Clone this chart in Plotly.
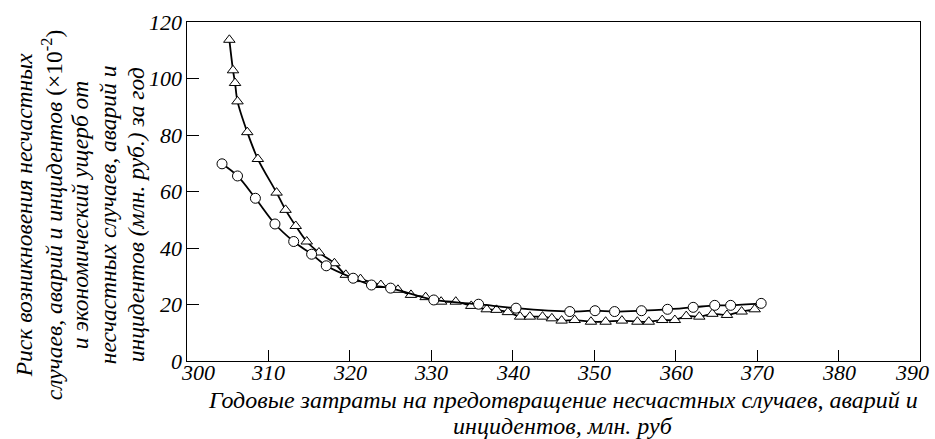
import plotly.graph_objects as go

# Risk curve (triangles): annual prevention cost vs. accident risk (x10^-2)
risk_x = [305.2, 305.65, 305.9, 306.2, 307.4, 308.7, 311.0, 312.1, 313.35, 314.7,
          316.2, 318.1, 319.5, 321.3, 323.8, 325.9, 327.5, 329.3, 331.2, 333.0,
          334.9, 336.8, 338.0, 339.4, 340.9, 342.1, 343.65, 344.8, 346.0, 347.6,
          349.6, 351.4, 353.4, 355.3, 356.7, 358.35, 359.9, 361.3, 362.9, 364.5,
          366.3, 368.1, 369.7]
risk_y = [113.7, 102.9, 98.4, 91.9, 81.0, 71.5, 59.6, 53.5, 47.8, 42.3,
          38.4, 34.6, 30.5, 29.0, 26.9, 25.2, 23.4, 22.6, 21.0, 21.0,
          19.5, 18.3, 18.1, 17.3, 15.7, 15.7, 15.7, 15.1, 14.3, 14.5,
          13.9, 13.9, 14.3, 13.9, 13.9, 14.5, 14.5, 15.9, 15.7, 16.7,
          16.3, 17.5, 18.3]

# Economic damage curve (circles), mln rub per year
loss_x = [304.3, 306.2, 308.4, 310.8, 313.1, 315.3, 317.1, 320.4, 322.65, 325.0,
          330.3, 335.8, 340.4, 347.0, 350.1, 352.5, 355.8, 359.0, 362.15, 364.8,
          366.75, 370.5]
loss_y = [69.8, 65.5, 57.6, 48.5, 42.3, 37.8, 33.7, 29.3, 26.9, 25.8,
          21.6, 20.1, 18.7, 17.5, 17.8, 17.5, 17.8, 18.3, 19.0, 19.7,
          19.7, 20.4]

x_ticks = [300, 310, 320, 330, 340, 350, 360, 370, 380, 390]
y_ticks = [0, 20, 40, 60, 80, 100, 120]

x_title_lines = ["Годовые затраты на предотвращение несчастных случаев, аварий и",
                 "инцидентов, млн. руб"]
y_title_lines = ["<i>Риск возникновения несчастных</i>",
                 "<i>случаев, аварий и инцидентов</i> (×10<sup>-2</sup>)",
                 "<i>и экономический ущерб от</i>",
                 "<i>несчастных случаев, аварий и</i>",
                 "<i>инцидентов (млн. руб.) за год</i>"]

FONT = "Liberation Serif"
BLACK = "black"

fig = go.Figure()

for xs, ys, sym in [(risk_x, risk_y, "triangle-up"), (loss_x, loss_y, "circle")]:
    fig.add_trace(go.Scatter(
        x=xs, y=ys, mode="lines",
        line=dict(color=BLACK, width=1.8, shape="spline", smoothing=0.9),
        hoverinfo="skip", showlegend=False,
    ))
    fig.add_trace(go.Scatter(
        x=xs, y=ys, mode="markers",
        marker=dict(symbol=sym, size=10, color="white",
                    line=dict(color=BLACK, width=1)),
        showlegend=False,
    ))

axis_common = dict(
    ticks="inside", tickwidth=1.3, tickcolor=BLACK,
    showline=True, linecolor=BLACK, linewidth=1.3, mirror=True,
    showgrid=False, zeroline=False, showticklabels=False,
)
fig.update_xaxes(range=[300, 390], tickvals=x_ticks, ticklen=11, **axis_common)
fig.update_yaxes(range=[0, 120], tickvals=y_ticks, ticklen=12, **axis_common)

tick_font = dict(family=FONT, size=22, color=BLACK, style="italic")

# italic tick labels, placed on the axes' own data coordinates
for v in x_ticks:
    shift = 11 if v == x_ticks[0] else (-8 if v == x_ticks[-1] else 0)
    fig.add_annotation(
        text=f"<i>{v}</i>", xref="x", yref="paper", x=v, y=-0.035,
        xanchor="center", yanchor="middle", xshift=shift, showarrow=False,
        font=tick_font,
    )
for v in y_ticks:
    fig.add_annotation(
        text=f"<i>{v}</i>", xref="paper", yref="y", x=0, y=v,
        xanchor="right", yanchor="middle", xshift=-3, showarrow=False,
        font=tick_font,
    )

# horizontal axis title, two centred lines
for line, ypos in zip(x_title_lines, [-0.114, -0.193]):
    fig.add_annotation(
        text=f"<i>{line}</i>", xref="paper", yref="paper", x=0.513, y=ypos,
        xanchor="center", yanchor="middle", showarrow=False,
        font=dict(family=FONT, size=24, color=BLACK),
    )

# vertical axis title, five rotated lines
for i, line in enumerate(y_title_lines):
    fig.add_annotation(
        text=line, xref="paper", yref="paper",
        x=(24 + 28 * i - 187) / 733, y=0.43,
        xanchor="center", yanchor="middle", showarrow=False,
        textangle=-90,
        font=dict(family=FONT, size=23.5, color=BLACK),
    )

fig.update_layout(
    width=935, height=439,
    margin=dict(l=187, r=15, t=22, b=78),
    paper_bgcolor="white", plot_bgcolor="white",
)

fig.write_html("out.html")
